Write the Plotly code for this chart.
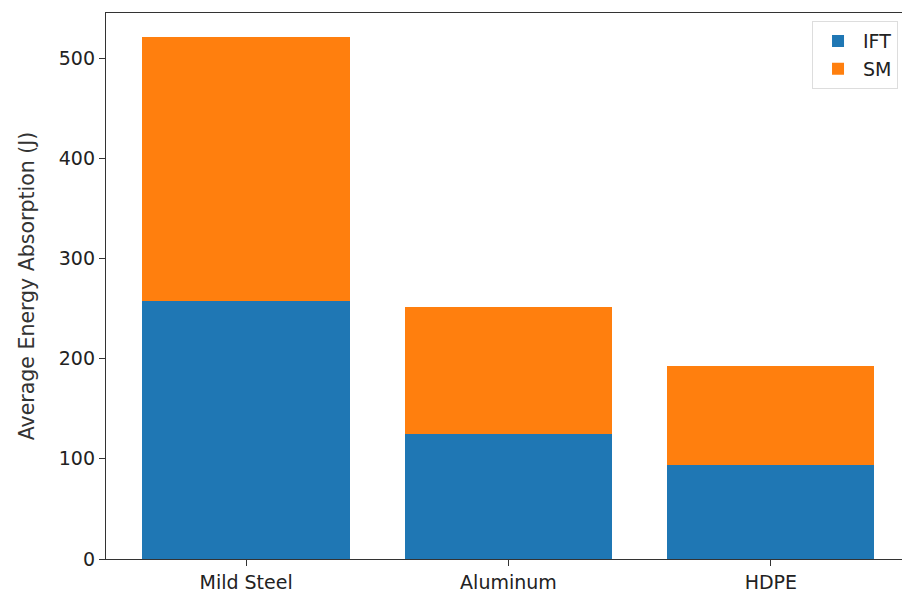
import plotly.graph_objects as go

# Average energy absorption per material, split by method
materials = ["Mild Steel", "Aluminum", "HDPE"]
ift_values = [258, 125, 94]
sm_values = [263.5, 126.5, 98.4]

BLUE = "#1f77b4"
ORANGE = "#ff7f0e"
FONT = "DejaVu Sans, sans-serif"

fig = go.Figure()
fig.add_trace(go.Bar(x=[0, 1, 2], y=ift_values, name="IFT",
                     marker=dict(color=BLUE, line=dict(width=0)), width=0.79))
fig.add_trace(go.Bar(x=[0, 1, 2], y=sm_values, name="SM",
                     marker=dict(color=ORANGE, line=dict(width=0)), width=0.79))

axis_common = dict(
    showline=True, linecolor="#333333", linewidth=1.3,
    ticks="outside", ticklen=6, tickcolor="#333333", tickwidth=1.2,
    showgrid=False, zeroline=False,
    tickfont=dict(family=FONT, size=19, color="#222222"),
)

fig.update_layout(
    barmode="stack",
    width=902, height=594,
    margin=dict(l=106, r=0, t=13, b=35),
    paper_bgcolor="white", plot_bgcolor="white",
    font=dict(family=FONT, size=18, color="#222222"),
    xaxis=dict(axis_common, mirror=True, range=[-0.534, 2.5],
               tickmode="array", tickvals=[0, 1, 2], ticktext=materials),
    yaxis=dict(axis_common, mirror=False, range=[0, 545], tickmode="array",
               tickvals=[0, 100, 200, 300, 400, 500],
               title=dict(text="Average Energy Absorption (J)",
                          font=dict(family=FONT, size=20.5, color="#333333"),
                          standoff=18)),
    legend=dict(x=0.995, y=0.985, xanchor="right", yanchor="top",
                bgcolor="white", bordercolor="#dddddd", borderwidth=1,
                font=dict(family=FONT, size=19, color="#222222"),
                traceorder="normal", itemwidth=40),
    bargap=0.2,
)

fig.write_html("out.html")
